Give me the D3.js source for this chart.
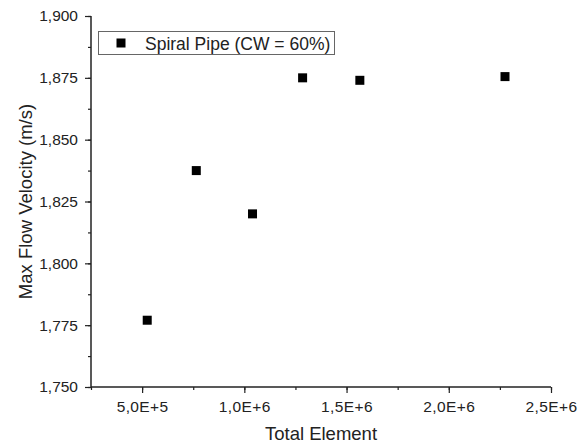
<!DOCTYPE html>
<html>
<head>
<meta charset="utf-8">
<script src="https://cdn.jsdelivr.net/npm/d3@7"></script>
<style>
  body { margin: 0; background: #fff; }
  text { font-family: "Liberation Sans", Arial, sans-serif; fill: #222; }
</style>
</head>
<body>
<div id="chart"></div>
<script>
// data
let elements = [525000, 765000, 1040000, 1285000, 1565000, 2275000]
let velocity = [1.777, 1.8375, 1.820, 1.875, 1.874, 1.8755]
let seriesName = "Spiral Pipe (CW = 60%)"
let xTicks = [500000, 1000000, 1500000, 2000000, 2500000]
let yTicks = [1.750, 1.775, 1.800, 1.825, 1.850, 1.875, 1.900]

let width = 582
let height = 444
let margin = {top: 16, right: 31, bottom: 57, left: 91}

let svg = d3.select("#chart")
  .append("svg")
  .attr("width", width)
  .attr("height", height)

let x = d3.scaleLinear()
  .domain([250000, 2500000])
  .range([margin.left, width - margin.right])

let y = d3.scaleLinear()
  .domain([1.750, 1.900])
  .range([height - margin.bottom, margin.top])

// decimal comma formats
let fmtY = d => d3.format(".3f")(d).replace(".", ",")
let fmtX = d => {
  let e = Math.floor(Math.log10(d))
  let m = d / Math.pow(10, e)
  return m.toFixed(1).replace(".", ",") + "E+" + e
}

// minor ticks
let xMinor = d3.range(250000, 2500001, 250000)
let yMinor = d3.range(0, 13).map(i => 1.750 + i * 0.0125)

let xAxis = svg.append("g")
  .attr("transform", `translate(0,${y(1.750)})`)
xAxis.call(d3.axisBottom(x).tickValues(xMinor).tickSize(3).tickFormat(""))
xAxis.append("g").call(d3.axisBottom(x).tickValues(xTicks).tickSize(6).tickFormat(fmtX).tickSizeOuter(0))

let yAxis = svg.append("g")
  .attr("transform", `translate(${x(250000)},0)`)
yAxis.call(d3.axisLeft(y).tickValues(yMinor).tickSize(3).tickFormat(""))
yAxis.append("g").call(d3.axisLeft(y).tickValues(yTicks).tickSize(6).tickFormat(fmtY).tickSizeOuter(0))

svg.selectAll(".domain").remove()
svg.selectAll(".tick line").style("stroke", "#222").style("stroke-width", 1.2)
svg.selectAll(".tick text")
  .style("font-size", "15.5px")
  .style("font-family", "Liberation Sans, Arial, sans-serif")
  .style("fill", "#222")
xAxis.selectAll(".tick text").attr("dy", "1.0em").style("letter-spacing", "0.4px")
yAxis.selectAll(".tick text").attr("x", -13)

// axis lines
svg.append("line")
  .attr("x1", x(250000)).attr("x2", x(2500000))
  .attr("y1", y(1.75)).attr("y2", y(1.75))
  .style("stroke", "#222").style("stroke-width", 1.5)
svg.append("line")
  .attr("x1", x(250000)).attr("x2", x(250000))
  .attr("y1", y(1.75)).attr("y2", y(1.9))
  .style("stroke", "#222").style("stroke-width", 1.5)

// axis titles
svg.append("text")
  .attr("x", (x(250000) + x(2500000)) / 2)
  .attr("y", 440)
  .attr("text-anchor", "middle")
  .style("font-size", "18.5px")
  .text("Total Element")

svg.append("text")
  .attr("transform", `translate(32,${(y(1.75) + y(1.9)) / 2}) rotate(-90)`)
  .attr("text-anchor", "middle")
  .style("font-size", "18.5px")
  .text("Max Flow Velocity (m/s)")

// points
let pts = elements.map((d, i) => ({x: d, y: velocity[i]}))
let s = 9
svg.append("g")
  .selectAll("rect")
  .data(pts)
  .join("rect")
  .attr("x", d => x(d.x) - s / 2)
  .attr("y", d => y(d.y) - s / 2)
  .attr("width", s)
  .attr("height", s)
  .attr("fill", "#000")

// legend
let legend = svg.append("g")
legend.append("rect")
  .attr("x", 98.5)
  .attr("y", 31.5)
  .attr("width", 236)
  .attr("height", 23)
  .attr("fill", "#fff")
  .attr("stroke", "#666")
legend.append("rect")
  .attr("x", 116.5)
  .attr("y", 38.5)
  .attr("width", s)
  .attr("height", s)
  .attr("fill", "#000")
legend.append("text")
  .attr("x", 145)
  .attr("y", 50)
  .style("font-size", "17.5px")
  .text(seriesName)
</script>
</body>
</html>
